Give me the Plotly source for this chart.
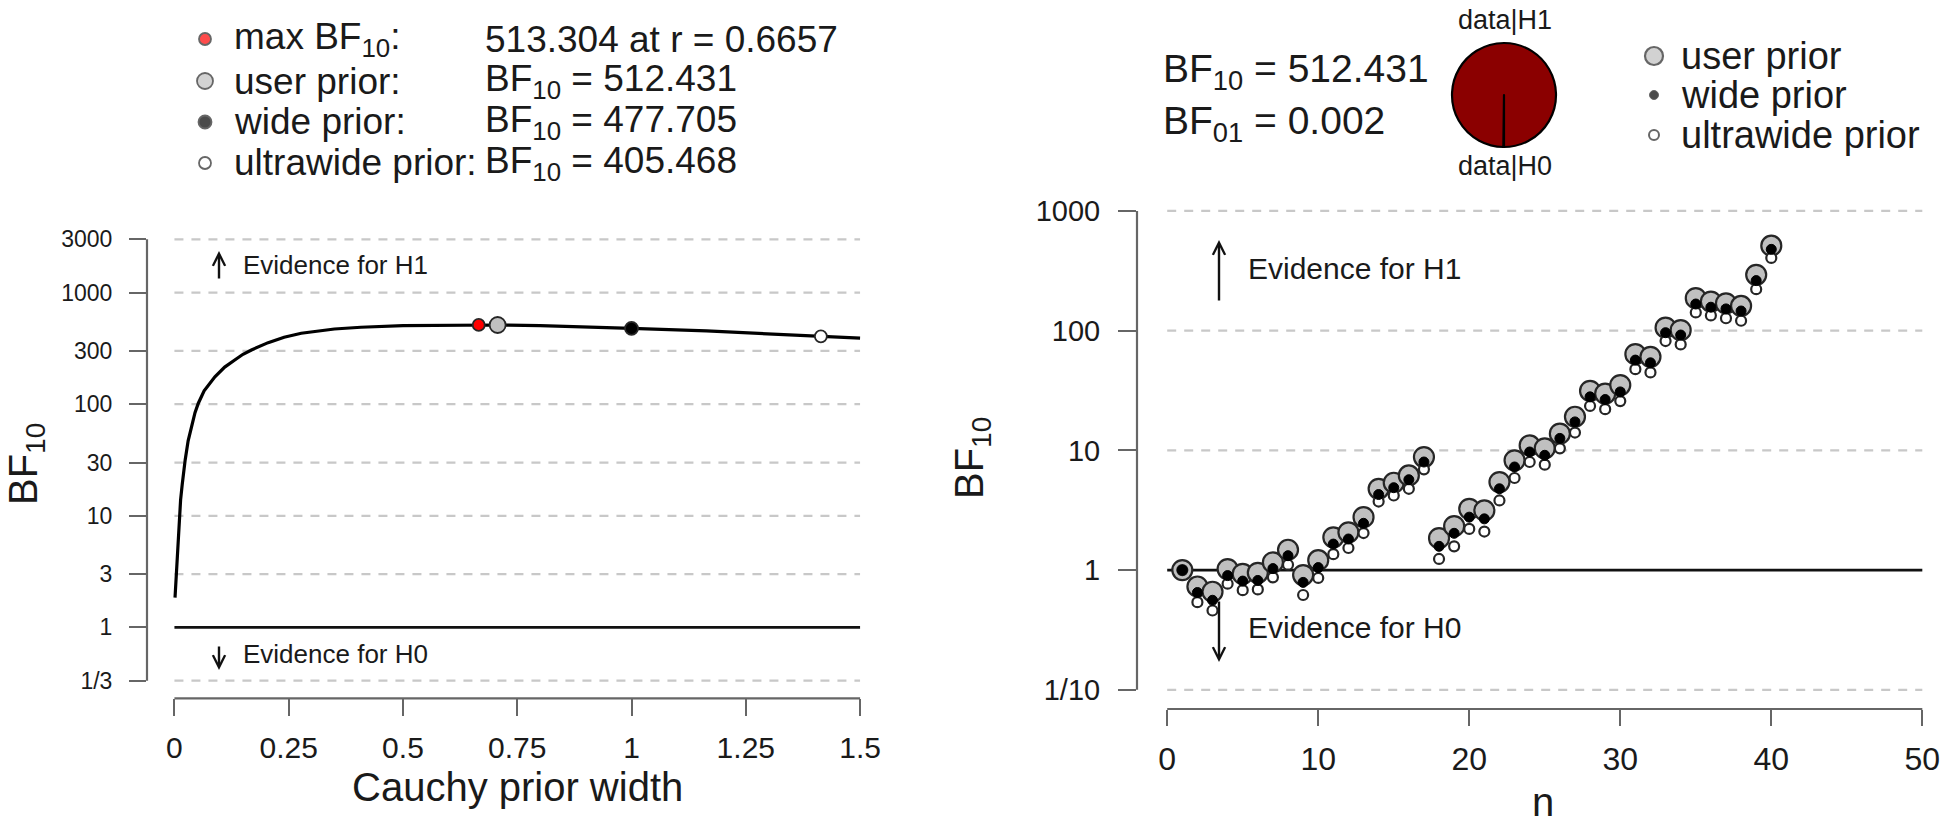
import math
import plotly.graph_objects as go

W, H = 1943, 826

# ---------------- data: left panel (robustness) ----------------
r_curve = [0.0013, 0.0025, 0.004, 0.0055, 0.0072, 0.009, 0.0112, 0.0135, 0.017, 0.0205,
           0.0235, 0.03, 0.0386, 0.045, 0.0523, 0.065, 0.0886, 0.11, 0.132, 0.15,
           0.1685, 0.205, 0.24, 0.2775, 0.35, 0.408, 0.5, 0.6, 0.6657, 0.7071,
           0.8, 0.9, 1.0, 1.164, 1.309, 1.4142, 1.5]
bf_curve = [1.85, 2.3, 2.8, 3.3, 4.0, 6.0, 9.0, 13.9, 19.0, 26.0,
            31.7, 47.0, 66.5, 84.0, 102.0, 132.0, 176.0, 215.0, 249.0, 280.0,
            306.0, 356.0, 398.0, 432.0, 472.0, 489.0, 505.0, 512.0, 513.304, 512.431,
            505.0, 493.0, 477.705, 453.0, 426.0, 405.468, 390.0]

r_points = [0.6657, 0.7071, 1.0, 1.4142]
bf_points = [513.304, 512.431, 477.705, 405.468]
point_fill = ["#ff0000", "#c0c0c0", "#000000", "#ffffff"]
point_size = [12, 16, 13, 12]
point_labels = ["max BF<sub>10</sub>:", "user prior:", "wide prior:", "ultrawide prior:"]
point_values = ["513.304 at r = 0.6657", "BF<sub>10</sub> = 512.431",
                "BF<sub>10</sub> = 477.705", "BF<sub>10</sub> = 405.468"]

left_yticks = [1/3, 1, 3, 10, 30, 100, 300, 1000, 3000]
left_yticktext = ["1/3", "1", "3", "10", "30", "100", "300", "1000", "3000"]
left_xticks = [0, 0.25, 0.5, 0.75, 1, 1.25, 1.5]
left_xticktext = ["0", "0.25", "0.5", "0.75", "1", "1.25", "1.5"]

# ---------------- data: right panel (sequential) ----------------
n = list(range(1, 41))
bf_user = [1.0, 0.73, 0.66, 1.02, 0.93, 0.95, 1.16, 1.48, 0.91, 1.21,
           1.88, 2.07, 2.77, 4.78, 5.37, 6.18, 8.8, 1.85, 2.33, 3.25,
           3.15, 5.44, 8.26, 11.0, 10.4, 13.8, 19.1, 31.4, 29.8, 35.1,
           63.7, 60.5, 106.0, 101.0, 187.0, 175.0, 169.0, 161.0, 293.0, 512.431]
bf_wide = [1.0, 0.65, 0.56, 0.90, 0.81, 0.82, 1.03, 1.32, 0.79, 1.05,
           1.65, 1.82, 2.46, 4.28, 4.88, 5.69, 8.0, 1.58, 2.03, 2.77,
           2.68, 4.78, 7.27, 9.7, 9.1, 12.6, 17.3, 28.0, 26.6, 30.8,
           56.8, 53.9, 96.2, 92.0, 167.0, 157.0, 152.0, 146.0, 262.0, 477.705]
bf_ultra = [1.0, 0.54, 0.46, 0.77, 0.68, 0.69, 0.87, 1.11, 0.62, 0.86,
            1.36, 1.53, 2.04, 3.74, 4.2, 4.78, 6.95, 1.24, 1.58, 2.21,
            2.1, 3.82, 5.88, 8.0, 7.6, 10.4, 14.1, 23.5, 22.1, 25.8,
            47.7, 44.8, 81.9, 76.8, 142.0, 134.0, 127.0, 121.0, 222.0, 405.468]
seq_names = ["user prior", "wide prior", "ultrawide prior"]

right_yticks = [0.1, 1, 10, 100, 1000]
right_yticktext = ["1/10", "1", "10", "100", "1000"]
right_xticks = [0, 10, 20, 30, 40, 50]
right_xticktext = ["0", "10", "20", "30", "40", "50"]

bf10_text = "BF<sub>10</sub> = 512.431"
bf01_text = "BF<sub>01</sub> = 0.002"
pie_values = [0.002, 0.998]   # data|H0, data|H1 proportions

# ---------------- styling ----------------
FONT = "Liberation Sans, Arial, sans-serif"
TXT = "#1a1a1a"
AXC = "#666666"
GRID = "#c8c8c8"
GREY = "#c0c0c0"
OUTL = "#262626"


def px(x):
    return x / W


def py(y):
    return 1 - y / H


L_XR = [-0.06, 1.56]
L_YR = [-0.635, 3.635]
R_XR = [-2.0, 51.37]
R_YR = [-1.16, 3.16]

fig = go.Figure()

# left gridlines
for t in left_yticks:
    if t == 1:
        continue
    fig.add_trace(go.Scatter(x=[left_xticks[0], left_xticks[-1]], y=[t, t], mode="lines",
                             line=dict(color=GRID, width=2.2, dash="9px,8px"),
                             xaxis="x", yaxis="y", hoverinfo="skip", showlegend=False))
fig.add_trace(go.Scatter(x=[left_xticks[0], left_xticks[-1]], y=[1, 1], mode="lines",
                         line=dict(color="#111111", width=2.6),
                         xaxis="x", yaxis="y", hoverinfo="skip", showlegend=False))
fig.add_trace(go.Scatter(x=r_curve, y=bf_curve, mode="lines",
                         line=dict(color="#000000", width=3.2),
                         xaxis="x", yaxis="y", hoverinfo="skip", showlegend=False))
for i in range(len(r_points)):
    fig.add_trace(go.Scatter(x=[r_points[i]], y=[bf_points[i]], mode="markers",
                             marker=dict(size=point_size[i], color=point_fill[i],
                                         line=dict(color=OUTL, width=1.8)),
                             xaxis="x", yaxis="y", showlegend=False, cliponaxis=False))

# right gridlines
for t in right_yticks:
    if t == 1:
        continue
    fig.add_trace(go.Scatter(x=[right_xticks[0], right_xticks[-1]], y=[t, t], mode="lines",
                             line=dict(color=GRID, width=2.2, dash="9px,8px"),
                             xaxis="x2", yaxis="y2", hoverinfo="skip", showlegend=False))
fig.add_trace(go.Scatter(x=[right_xticks[0], right_xticks[-1]], y=[1, 1], mode="lines",
                         line=dict(color="#111111", width=2.6),
                         xaxis="x2", yaxis="y2", hoverinfo="skip", showlegend=False))
fig.add_trace(go.Scatter(x=n, y=bf_user, mode="markers",
                         marker=dict(size=20, color=GREY, line=dict(color=OUTL, width=2.2)),
                         xaxis="x2", yaxis="y2", showlegend=False, cliponaxis=False))
fig.add_trace(go.Scatter(x=n, y=bf_ultra, mode="markers",
                         marker=dict(size=10, color="#ffffff", line=dict(color=OUTL, width=2.2)),
                         xaxis="x2", yaxis="y2", showlegend=False, cliponaxis=False))
fig.add_trace(go.Scatter(x=n, y=bf_wide, mode="markers",
                         marker=dict(size=10, color="#000000", line=dict(color="#000000", width=1)),
                         xaxis="x2", yaxis="y2", showlegend=False, cliponaxis=False))

# legend markers (decoration, overlay pixel axes)
leg_l_x = [205] * 4
leg_l_y = [39, 81, 122, 163]
fig.add_trace(go.Scatter(x=leg_l_x, y=leg_l_y, mode="markers",
                         marker=dict(size=point_size, color=point_fill,
                                     line=dict(color=OUTL, width=1.8)),
                         xaxis="x3", yaxis="y3", showlegend=False, cliponaxis=False, hoverinfo="skip"))
leg_r_x = [1654] * 3
leg_r_y = [56, 95, 135]
fig.add_trace(go.Scatter(x=leg_r_x, y=leg_r_y, mode="markers",
                         marker=dict(size=[18, 9, 10], color=[GREY, "#000000", "#ffffff"],
                                     line=dict(color=OUTL, width=[2.2, 1, 2])),
                         xaxis="x3", yaxis="y3", showlegend=False, cliponaxis=False, hoverinfo="skip"))

# pie of data|H1 vs data|H0
fig.add_trace(go.Pie(values=pie_values, labels=["data|H0", "data|H1"], sort=False,
                     direction="clockwise", rotation=180,
                     marker=dict(colors=["#ffffff", "#8b0000"], line=dict(color="#000000", width=2.2)),
                     textinfo="none", hoverinfo="skip", showlegend=False,
                     domain=dict(x=[px(1504 - 52), px(1504 + 52)], y=[py(95 + 52), py(95 - 52)])))


def frac(v, rng, log=False):
    if log:
        v = math.log10(v)
    return (v - rng[0]) / (rng[1] - rng[0])


shapes = [
    dict(type="line", xref="x domain", yref="y domain", x0=0, x1=0,
         y0=frac(left_yticks[0], L_YR, True), y1=frac(left_yticks[-1], L_YR, True),
         line=dict(color=AXC, width=2.2)),
    dict(type="line", xref="x domain", yref="y domain", y0=0, y1=0,
         x0=frac(left_xticks[0], L_XR), x1=frac(left_xticks[-1], L_XR),
         line=dict(color=AXC, width=2.2)),
    dict(type="line", xref="x2 domain", yref="y2 domain", x0=0, x1=0,
         y0=frac(right_yticks[0], R_YR, True), y1=frac(right_yticks[-1], R_YR, True),
         line=dict(color=AXC, width=2.2)),
    dict(type="line", xref="x2 domain", yref="y2 domain", y0=0, y1=0,
         x0=frac(right_xticks[0], R_XR), x1=frac(right_xticks[-1], R_XR),
         line=dict(color=AXC, width=2.2)),
]

ann = []


def text(x, y, s, size, xanchor="left", yanchor="middle", angle=0):
    ann.append(dict(x=px(x), y=py(y), xref="paper", yref="paper", text=s, showarrow=False,
                    xanchor=xanchor, yanchor=yanchor, textangle=angle,
                    font=dict(family=FONT, size=size, color=TXT)))


def arrow(x, y_tip, y_tail):
    ann.append(dict(x=px(x), y=py(y_tip), xref="paper", yref="paper", text="",
                    showarrow=True, ax=0, ay=y_tail - y_tip, axref="pixel", ayref="pixel",
                    arrowhead=5, arrowsize=1.0, arrowwidth=2.4, arrowcolor="#111111",
                    standoff=0, startstandoff=0))


# left legend
for i in range(4):
    text(232, leg_l_y[i], point_labels[i], 37)
    text(483, leg_l_y[i], point_values[i], 37)
# right legend
for i in range(3):
    text(1679, leg_r_y[i], seq_names[i], 38)
# BF text
text(1161, 71, bf10_text, 39)
text(1161, 123, bf01_text, 39)
text(1505, 20, "data|H1", 27, xanchor="center")
text(1505, 166, "data|H0", 27, xanchor="center")

# evidence labels
text(241, 265, "Evidence for H1", 26)
text(241, 654, "Evidence for H0", 26)
arrow(219, 251, 280)
arrow(219, 670, 645)
text(1246, 269, "Evidence for H1", 30)
text(1246, 627, "Evidence for H0", 30)
arrow(1219, 240, 302)
arrow(1219, 662, 600)

# axis titles
text(517, 787, "Cauchy prior width", 40, xanchor="center")
text(26, 464, "BF<sub>10</sub>", 40, xanchor="center", angle=-90)
text(1543, 826, "n", 40, xanchor="center", yanchor="bottom")
text(972, 458, "BF<sub>10</sub>", 40, xanchor="center", angle=-90)

common = dict(showgrid=False, zeroline=False, showline=False, ticks="outside",
              tickcolor=AXC, tickwidth=2.2, fixedrange=True)

fig.update_layout(
    width=W, height=H, margin=dict(l=0, r=0, t=0, b=0),
    paper_bgcolor="white", plot_bgcolor="rgba(0,0,0,0)", showlegend=False,
    font=dict(family=FONT, color=TXT),
    xaxis=dict(domain=[px(147), px(887.5)], range=L_XR, tickvals=left_xticks,
               ticktext=left_xticktext, ticklen=17, anchor="y",
               tickfont=dict(size=30, color=TXT, family=FONT), ticklabelstandoff=6, **common),
    yaxis=dict(domain=[py(698.3), py(221.7)], type="log", range=L_YR, tickvals=left_yticks,
               ticktext=left_yticktext, ticklen=17, anchor="x",
               tickfont=dict(size=23, color=TXT, family=FONT), ticklabelstandoff=12, **common),
    xaxis2=dict(domain=[px(1137), 1.0], range=R_XR, tickvals=right_xticks,
                ticktext=right_xticktext, ticklen=16, anchor="y2",
                tickfont=dict(size=32, color=TXT, family=FONT), ticklabelstandoff=6, **common),
    yaxis2=dict(domain=[py(709), py(191.8)], type="log", range=R_YR, tickvals=right_yticks,
                ticktext=right_yticktext, ticklen=18, anchor="x2",
                tickfont=dict(size=29, color=TXT, family=FONT), ticklabelstandoff=12, **common),
    xaxis3=dict(domain=[0, 1], range=[0, W], visible=False, fixedrange=True, anchor="y3"),
    yaxis3=dict(domain=[0, 1], range=[H, 0], visible=False, fixedrange=True, anchor="x3"),
    shapes=shapes,
    annotations=ann,
)

fig.write_html("out.html", config={"displayModeBar": False},
               post_script="document.body.style.margin='0px';")
